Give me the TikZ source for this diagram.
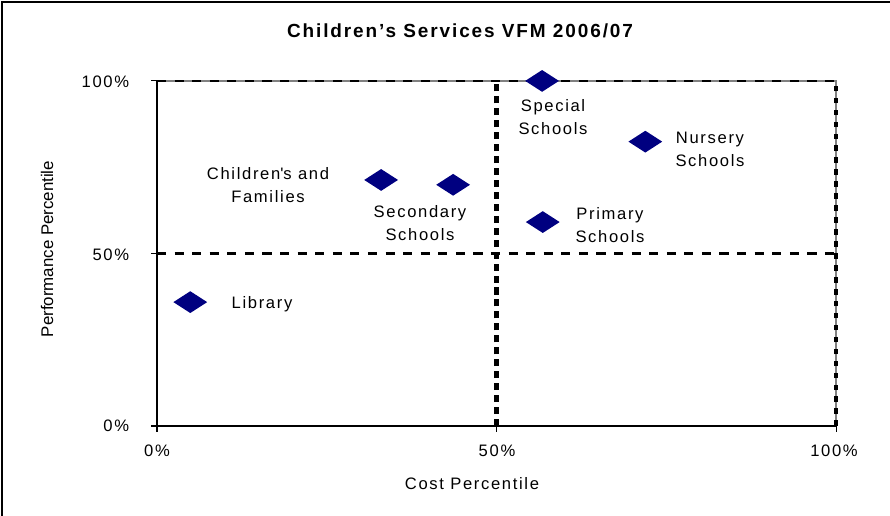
\documentclass[tikz,border=0pt]{standalone}
\usepackage{fontspec}
\setmainfont{Liberation Sans}[LetterSpace=10]
\usetikzlibrary{shapes.geometric}
\definecolor{navyblue}{RGB}{0,0,128}
\definecolor{framegray}{RGB}{128,128,128}

\begin{document}
\begin{tikzpicture}[x=0.025cm,y=-0.025cm,
  font=\fontsize{11.8}{16.5}\selectfont,
  point/.style={diamond,fill=navyblue,inner sep=0pt,minimum width=0.85cm,minimum height=0.55cm},
  dashline/.style={line width=1.8pt,dash pattern=on 6.5pt off 6pt},
  dotline/.style={line width=3pt,dash pattern=on 5pt off 3.5pt},
  lbl/.style={align=center}]
\useasboundingbox (0,0) rectangle (890,515);
\draw[line width=0.8pt] (2,2) rectangle (900,525);

\begin{scope}[shift={(157,426)},x=16.975cm,y=8.625cm]
\draw[framegray,line width=1.2pt] (0,1) -- (1,1) -- (1,0);
\draw[dashline] (0,1) -- (1,1);
\draw[dashline] (0,.5) -- (1,.5);
\draw[dotline] (.5,0) -- (.5,1);
\draw[dotline,line width=2.4pt,dash pattern=on 4pt off 4.5pt] (1,0) -- (1,1);
\draw[line width=0.8pt] (0,1) -- (0,0) -- (1,0);
\foreach \t in {0,.5,1} {
  \draw[line width=0.8pt] (0,\t) -- ++(-0.15cm,0);
  \draw[line width=0.8pt] (\t,0) -- ++(0,-0.15cm);
}
\foreach \n/\cx/\cy in {lib/.049/.359,cf/.330/.713,sec/.436/.699,spec/.567/1,prim/.568/.591,nurs/.719/.824}
  \node[point] (\n) at (\cx,\cy) {};
\end{scope}

\node[font=\fontsize{13.5}{16}\bfseries\selectfont,anchor=base] (title) at (460,37) {Children’s Services VFM 2006/07};

\node[anchor=base east] (y100) at (134,87) {100\%};
\node[anchor=base east] (y50) at (134,260) {50\%};
\node[anchor=base east] (y0) at (134,431) {0\%};
\node[anchor=base] (x0) at (157,456) {0\%};
\node[anchor=base] (x50) at (497,456) {50\%};
\node[anchor=base] (x100) at (834,456) {100\%};
\node[anchor=base] (xlab) at (472,489) {Cost Percentile};
\node[anchor=base,rotate=90,font=\fontsize{12}{14}\selectfont\addfontfeature{LetterSpace=0}] (ylab) at (53,249) {Performance Percentile};

\node[lbl] (speclbl) at (553,117) {Special\\Schools};
\node[lbl] (nurslbl) at (710,149) {Nursery\\Schools};
\node[lbl] (cflbl) at (268,185) {Children\textquotesingle s and\\Families};
\node[lbl] (seclbl) at (420,223) {Secondary\\Schools};
\node[lbl] (primlbl) at (610,225) {Primary\\Schools};
\node (liblbl) at (262,304) {Library};
\end{tikzpicture}
\end{document}
